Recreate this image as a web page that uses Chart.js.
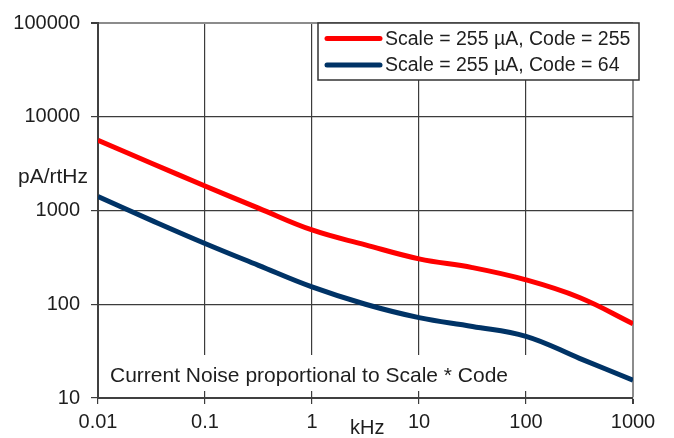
<!DOCTYPE html>
<html>
<head>
<meta charset="utf-8">
<script src="https://cdn.jsdelivr.net/npm/chart.js@4/dist/chart.umd.min.js"></script>
<style>
  html, body { margin: 0; padding: 0; background: #fff; }
  #wrap { width: 674px; height: 438px; }
</style>
</head>
<body>
<div id="wrap"><canvas id="chart"></canvas></div>
<script>
// frequency in kHz
var freq = [0.01, 0.0316, 0.1, 0.316, 1, 3.16, 10, 31.6, 100, 316, 1000]
// current noise, pA/rtHz
var code255 = [5600, 3195, 1825, 1060, 620, 430, 305, 246, 182, 118, 62]
var code64 = [1406, 785, 445, 260, 153, 100, 72, 58, 45.5, 26.5, 15.5]

var seriesLabels = ['Scale = 255 µA, Code = 255', 'Scale = 255 µA, Code = 64']
var seriesColors = ['#ff0000', '#003366']

var xTicks = [0.01, 0.1, 1, 10, 100, 1000]
var xTickLabels = ['0.01', '0.1', '1', '10', '100', '1000']
var yTicks = [10, 100, 1000, 10000, 100000]
var yTickLabels = ['10', '100', '1000', '10000', '100000']

var FONT = '"Liberation Sans", Arial, sans-serif'
var TEXT = '#1e1e1e'
var GRID = '#3c3c3c'
var EDGE = '#8c8c8c'

function points(ys) {
  return freq.map(function (f, i) { return { x: f, y: ys[i] } })
}

function decades(list) {
  return function (scale) {
    scale.ticks = list.map(function (v) { return { value: v } })
  }
}

// white box behind the note, cuts the grid lines like the original sheet
var notePlugin = {
  id: 'note',
  beforeDatasetsDraw: function (chart) {
    var ctx = chart.ctx
    var area = chart.chartArea
    ctx.save()
    ctx.fillStyle = '#fff'
    ctx.fillRect(area.left + 2, area.bottom - 43, 460, 36)
    ctx.restore()
  },
  afterDraw: function (chart) {
    var ctx = chart.ctx
    var area = chart.chartArea
    ctx.save()
    ctx.fillStyle = TEXT
    ctx.textBaseline = 'alphabetic'
    ctx.textAlign = 'left'
    ctx.font = '21px ' + FONT
    ctx.fillText('Current Noise proportional to Scale * Code', area.left + 12, area.bottom - 16)
    ctx.fillText('pA/rtHz', 18, 183)
    ctx.font = '20px ' + FONT
    ctx.fillText('kHz', 350, 434)

    // legend box, sits over the top right corner
    var bx = 318, by = 23, bw = 321, bh = 57
    ctx.fillStyle = '#fff'
    ctx.fillRect(bx, by, bw, bh)
    ctx.strokeStyle = '#333'
    ctx.lineWidth = 1.5
    ctx.strokeRect(bx, by, bw, bh)
    ctx.font = '19.5px ' + FONT
    ctx.textBaseline = 'middle'
    chart.data.datasets.forEach(function (ds, i) {
      var y = by + 15.5 + i * 26.5
      ctx.strokeStyle = ds.borderColor
      ctx.lineWidth = 5
      ctx.lineCap = 'round'
      ctx.beginPath()
      ctx.moveTo(bx + 9, y)
      ctx.lineTo(bx + 62, y)
      ctx.stroke()
      ctx.fillStyle = TEXT
      ctx.fillText(ds.label, bx + 67, y + 1)
    })
    ctx.restore()
  }
}

new Chart(document.getElementById('chart'), {
  type: 'line',
  data: {
    datasets: [code255, code64].map(function (ys, i) {
      return {
        label: seriesLabels[i],
        data: points(ys),
        borderColor: seriesColors[i],
        backgroundColor: seriesColors[i],
        borderWidth: 5,
        pointRadius: 0,
        tension: 0.4,
        fill: false
      }
    })
  },
  options: {
    responsive: true,
    maintainAspectRatio: false,
    animation: false,
    events: [],
    layout: { padding: { top: 20, right: 41, left: 0, bottom: 0 } },
    plugins: { legend: { display: false }, tooltip: { enabled: false } },
    scales: {
      x: {
        type: 'logarithmic',
        min: 0.01,
        max: 1000,
        afterBuildTicks: decades(xTicks),
        afterFit: function (s) { s.height = 40 },
        grid: {
          color: function (c) { return c.tick && c.tick.value === 1000 ? EDGE : GRID },
          lineWidth: function (c) { return c.tick && c.tick.value === 1000 ? 2 : 1.2 },
          tickLength: 6,
          tickColor: GRID
        },
        border: { color: '#404040', width: 2 },
        ticks: {
          autoSkip: false,
          maxRotation: 0,
          padding: 6,
          color: TEXT,
          font: { family: FONT, size: 20 },
          callback: function (v) {
            var i = xTicks.indexOf(v)
            return i < 0 ? '' : xTickLabels[i]
          }
        }
      },
      y: {
        type: 'logarithmic',
        min: 10,
        max: 100000,
        afterBuildTicks: decades(yTicks),
        afterFit: function (s) { s.width = 98 },
        grid: {
          color: function (c) { return c.tick && c.tick.value === 100000 ? EDGE : GRID },
          lineWidth: function (c) { return c.tick && c.tick.value === 100000 ? 2 : 1.2 },
          tickLength: 7,
          tickColor: GRID
        },
        border: { color: '#404040', width: 2 },
        ticks: {
          autoSkip: false,
          padding: 11,
          color: TEXT,
          font: { family: FONT, size: 20 },
          callback: function (v) {
            var i = yTicks.indexOf(v)
            return i < 0 ? '' : yTickLabels[i]
          }
        }
      }
    }
  },
  plugins: [notePlugin]
})
</script>
</body>
</html>
